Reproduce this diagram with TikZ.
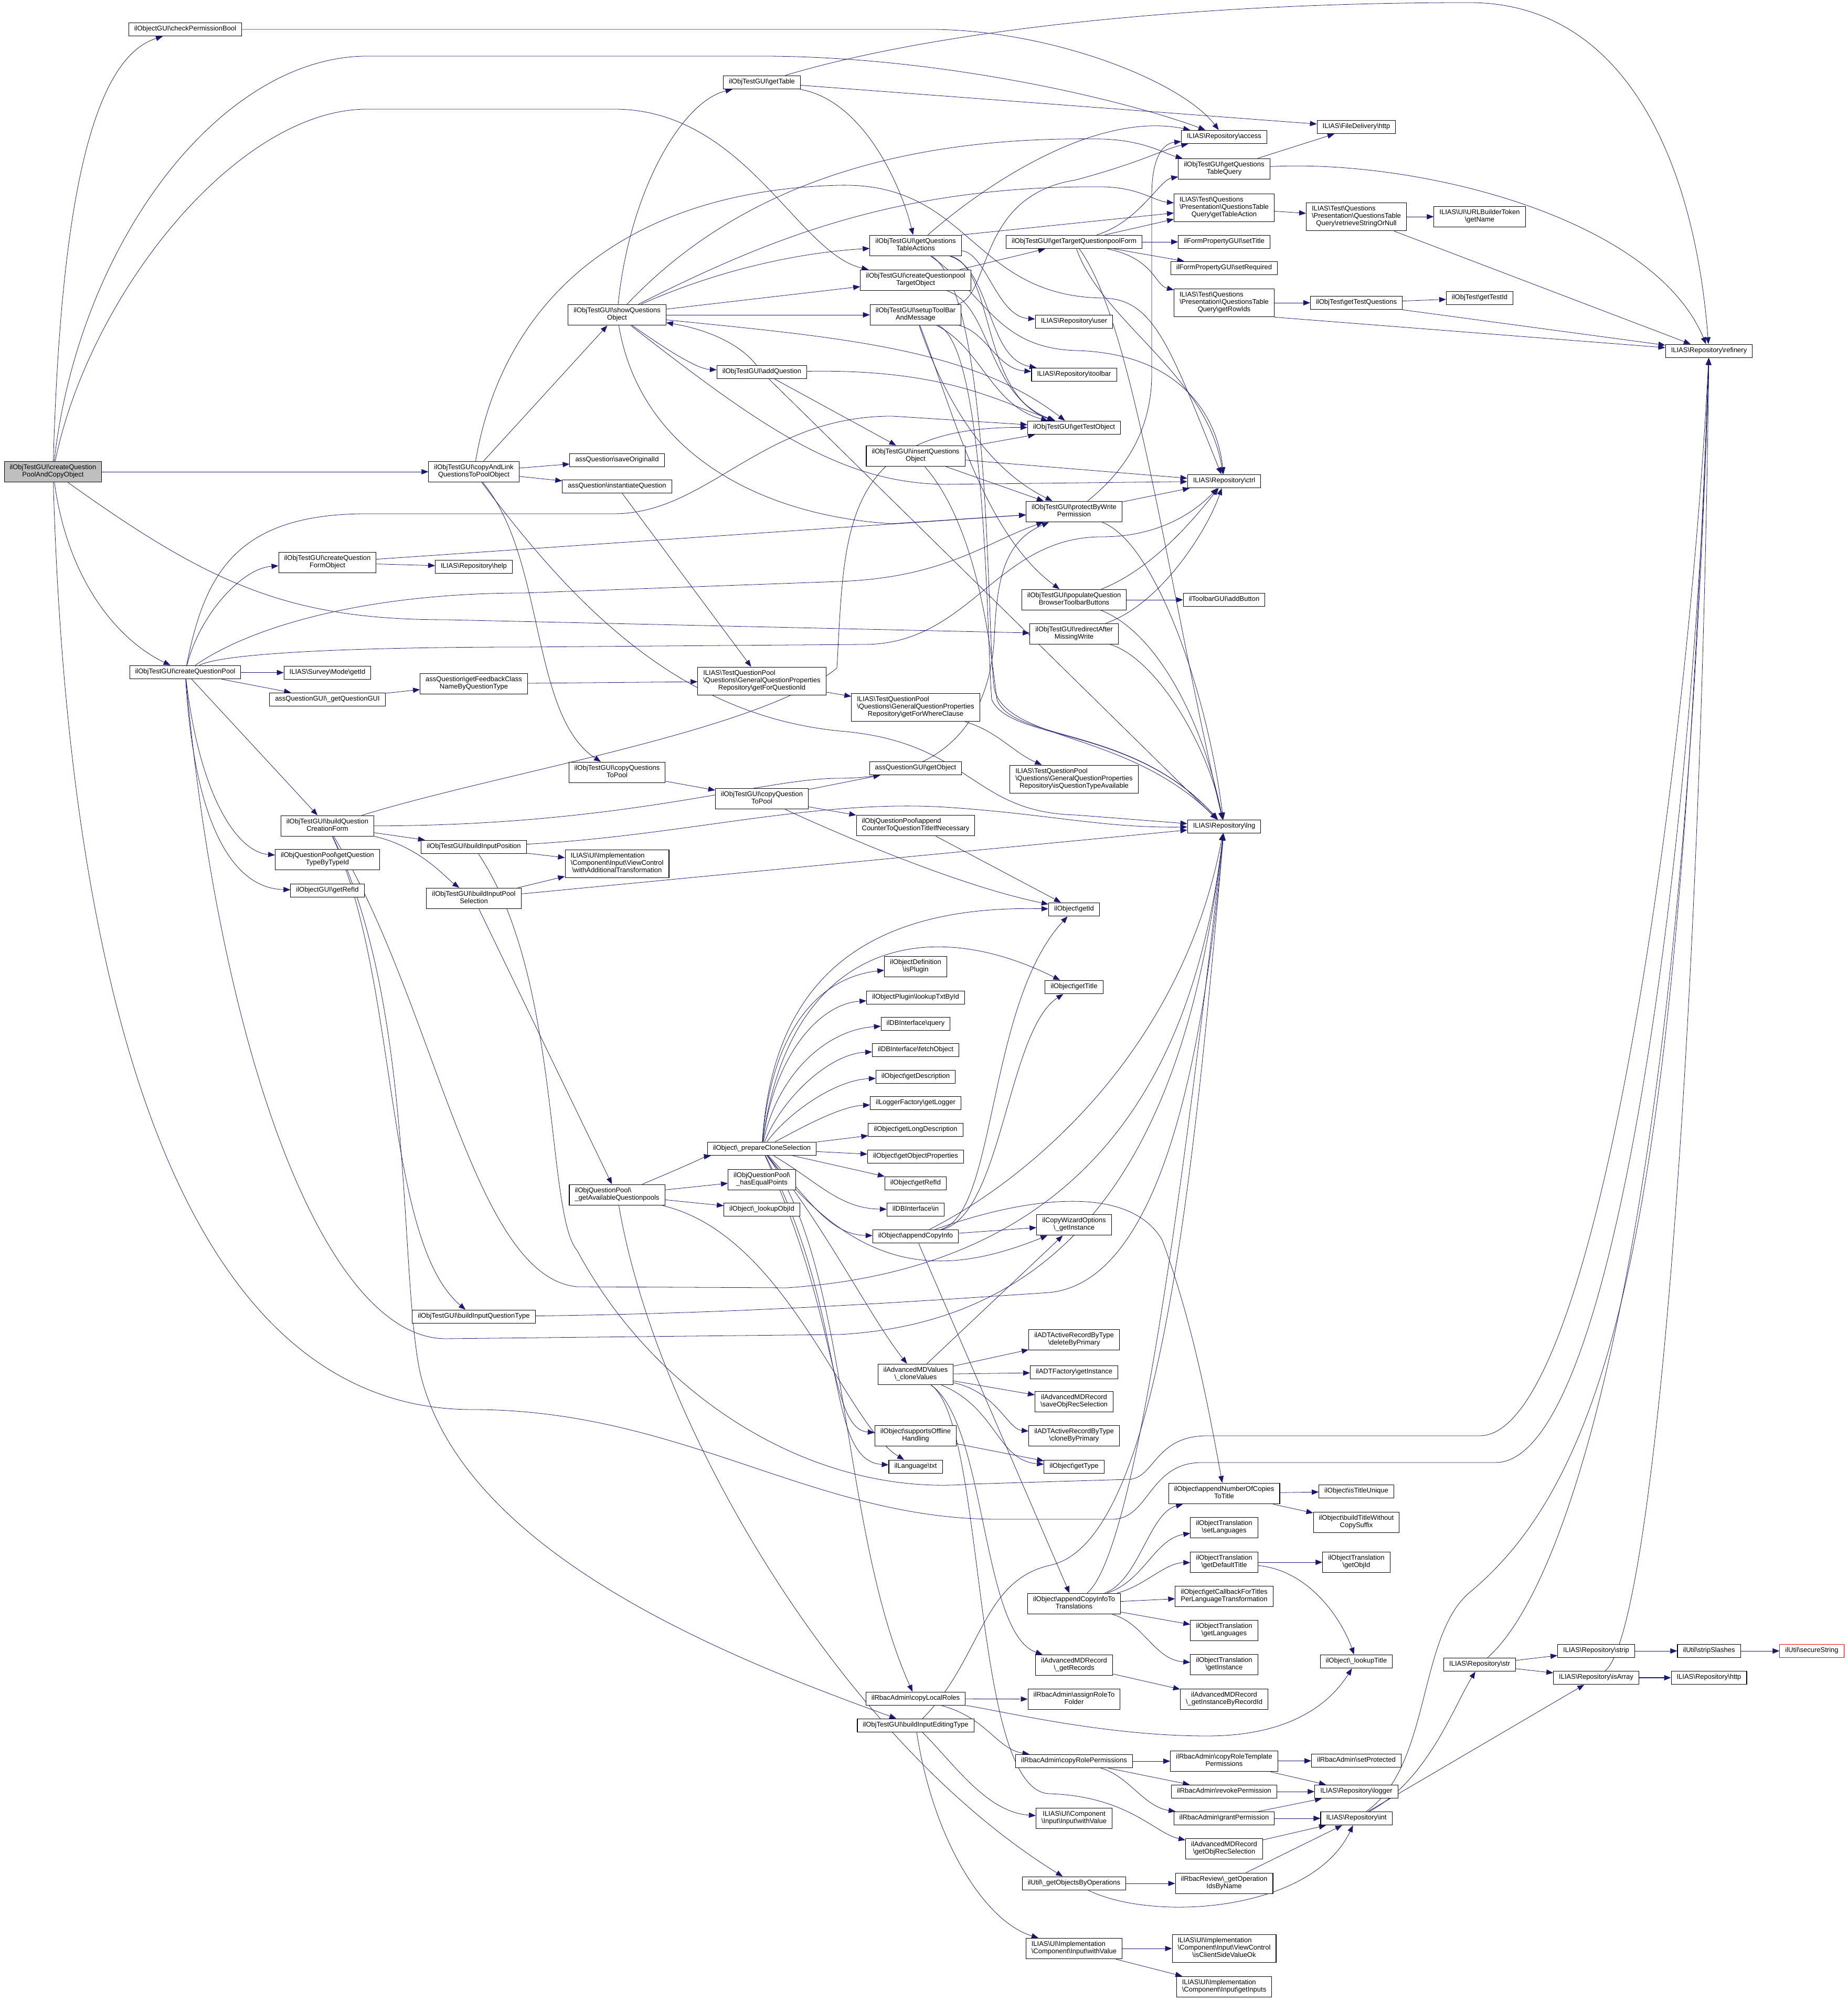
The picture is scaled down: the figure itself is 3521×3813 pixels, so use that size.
\documentclass[tikz,border=0pt]{standalone}
\usepackage{fontspec}
\setmainfont{Liberation Sans}
\usetikzlibrary{arrows.meta,backgrounds}

\definecolor{edgeblue}{HTML}{191970}
\newcommand{\bsl}{\textbackslash}
\newcommand{\boxc}[1]{\begin{tabular}{@{}c@{}}#1\end{tabular}}
\newcommand{\boxl}[2]{\begin{tabular}{@{}l@{}}#1\\\multicolumn{1}{@{}c@{}}{#2}\end{tabular}}

\begin{document}
\begin{tikzpicture}[x=0.2mm,y=0.2mm,font=\fontsize{7.4}{8}\selectfont,
	fn/.style={draw, line width=0.6pt, fill=white, inner xsep=6pt, inner ysep=3.3pt},
	conn/.style={draw=edgeblue, line width=0.45pt, -{Triangle[length=2.6mm,width=2mm]}}]

	\begin{scope}[on background layer]
		\fill[white] (0,0) rectangle (3521,3813);
	\end{scope}
	\useasboundingbox (0,0) rectangle (3521,3813);

	% column 0
	\node[fn, fill=black!25] (root) at (101,2914) {\boxc{ilObjTestGUI\bsl createQuestion\\PoolAndCopyObject}};

	% column 1
	\node[fn] (cpb) at (353,3757) {\boxc{ilObjectGUI\bsl checkPermissionBool}};
	\node[fn] (cqp) at (353,2532) {\boxc{ilObjTestGUI\bsl createQuestionPool}};

	% column 2
	\node[fn] (cqfo) at (624,2741) {\boxc{ilObjTestGUI\bsl createQuestion\\FormObject}};
	\node[fn] (svgetid) at (624,2531) {\boxc{ILIAS\bsl Survey\bsl Mode\bsl getId}};
	\node[fn] (getqgui) at (624,2480) {\boxc{assQuestionGUI\bsl\_getQuestionGUI}};
	\node[fn] (bqcf) at (624,2239) {\boxc{ilObjTestGUI\bsl buildQuestion\\CreationForm}};
	\node[fn] (qtbt) at (624,2175) {\boxc{ilObjQuestionPool\bsl getQuestion\\TypeByTypeId}};
	\node[fn] (guirefid) at (624,2116) {\boxc{ilObjectGUI\bsl getRefId}};

	% column 3
	\node[fn] (calq) at (903,2914) {\boxc{ilObjTestGUI\bsl copyAndLink\\QuestionsToPoolObject}};
	\node[fn] (help) at (903,2733) {\boxc{ILIAS\bsl Repository\bsl help}};
	\node[fn] (fbcn) at (903,2510) {\boxc{assQuestion\bsl getFeedbackClass\\NameByQuestionType}};
	\node[fn] (bip) at (903,2199) {\boxc{ilObjTestGUI\bsl buildInputPosition}};
	\node[fn] (bips) at (903,2101) {\boxc{ilObjTestGUI\bsl buildInputPool\\Selection}};
	\node[fn] (biqt) at (903,1304) {\boxc{ilObjTestGUI\bsl buildInputQuestionType}};

	% column 4
	\node[fn] (sqo) at (1176,3213) {\boxc{ilObjTestGUI\bsl showQuestions\\Object}};
	\node[fn] (saveoid) at (1176,2936) {\boxc{assQuestion\bsl saveOriginalId}};
	\node[fn] (instq) at (1176,2886) {\boxc{assQuestion\bsl instantiateQuestion}};
	\node[fn] (cqtp) at (1176,2341) {\boxc{ilObjTestGUI\bsl copyQuestions\\ToPool}};
	\node[fn] (wat) at (1176,2167) {\boxl{ILIAS\bsl UI\bsl Implementation\\\bsl Component\bsl Input\bsl ViewControl}{\bsl withAdditionalTransformation}};
	\node[fn] (gaqp) at (1176,1536) {\boxl{ilObjQuestionPool\bsl}{\_getAvailableQuestionpools}};

	% column 5
	\node[fn] (gettable) at (1452,3656) {\boxc{ilObjTestGUI\bsl getTable}};
	\node[fn] (addq) at (1452,3104) {\boxc{ilObjTestGUI\bsl addQuestion}};
	\node[fn] (gfqid) at (1452,2515) {\boxl{ILIAS\bsl TestQuestionPool\\\bsl Questions\bsl GeneralQuestionProperties}{Repository\bsl getForQuestionId}};
	\node[fn] (cq2p) at (1452,2291) {\boxc{ilObjTestGUI\bsl copyQuestion\\ToPool}};
	\node[fn] (pcs) at (1452,1624) {\boxc{ilObject\bsl\_prepareCloneSelection}};
	\node[fn] (hep) at (1452,1565) {\boxc{ilObjQuestionPool\bsl\\\_hasEqualPoints}};
	\node[fn] (lobjid) at (1452,1508) {\boxc{ilObject\bsl\_lookupObjId}};

	% column 6
	\node[fn] (gqta) at (1745,3345) {\boxc{ilObjTestGUI\bsl getQuestions\\TableActions}};
	\node[fn] (cqpto) at (1745,3279) {\boxc{ilObjTestGUI\bsl createQuestionpool\\TargetObject}};
	\node[fn] (stbm) at (1745,3213) {\boxc{ilObjTestGUI\bsl setupToolBar\\AndMessage}};
	\node[fn] (iqo) at (1745,2944) {\boxc{ilObjTestGUI\bsl insertQuestions\\Object}};
	\node[fn] (gfwc) at (1745,2465) {\boxl{ILIAS\bsl TestQuestionPool\\\bsl Questions\bsl GeneralQuestionProperties}{Repository\bsl getForWhereClause}};
	\node[fn] (aqgobj) at (1745,2349) {\boxc{assQuestionGUI\bsl getObject}};
	\node[fn] (acqt) at (1745,2240) {\boxl{ilObjQuestionPool\bsl append}{CounterToQuestionTitleIfNecessary}};
	\node[fn] (isplugin) at (1745,1971) {\boxc{ilObjectDefinition\\\bsl isPlugin}};
	\node[fn] (ltxt) at (1745,1912) {\boxc{ilObjectPlugin\bsl lookupTxtById}};
	\node[fn] (query) at (1745,1862) {\boxc{ilDBInterface\bsl query}};
	\node[fn] (fetch) at (1745,1812) {\boxc{ilDBInterface\bsl fetchObject}};
	\node[fn] (getdesc) at (1745,1761) {\boxc{ilObject\bsl getDescription}};
	\node[fn] (getlogger) at (1745,1711) {\boxc{ilLoggerFactory\bsl getLogger}};
	\node[fn] (getlongdesc) at (1745,1660) {\boxc{ilObject\bsl getLongDescription}};
	\node[fn] (getobjprops) at (1745,1609) {\boxc{ilObject\bsl getObjectProperties}};
	\node[fn] (objrefid) at (1745,1558) {\boxc{ilObject\bsl getRefId}};
	\node[fn] (dbin) at (1745,1508) {\boxc{ilDBInterface\bsl in}};
	\node[fn] (aci) at (1745,1457) {\boxc{ilObject\bsl appendCopyInfo}};
	\node[fn] (clonev) at (1745,1194) {\boxc{ilAdvancedMDValues\\\bsl\_cloneValues}};
	\node[fn] (sofh) at (1745,1077) {\boxc{ilObject\bsl supportsOffline\\Handling}};
	\node[fn] (langtxt) at (1745,1018) {\boxc{ilLanguage\bsl txt}};
	\node[fn] (clr) at (1745,576) {\boxc{ilRbacAdmin\bsl copyLocalRoles}};
	\node[fn] (biet) at (1745,525) {\boxc{ilObjTestGUI\bsl buildInputEditingType}};

	% column 7
	\node[fn] (gtqf) at (2047,3352) {\boxc{ilObjTestGUI\bsl getTargetQuestionpoolForm}};
	\node[fn] (user) at (2047,3200) {\boxc{ILIAS\bsl Repository\bsl user}};
	\node[fn] (toolbar) at (2047,3099) {\boxc{ILIAS\bsl Repository\bsl toolbar}};
	\node[fn] (gto) at (2047,2998) {\boxc{ilObjTestGUI\bsl getTestObject}};
	\node[fn] (pbwp) at (2047,2838) {\boxc{ilObjTestGUI\bsl protectByWrite\\Permission}};
	\node[fn] (pqbtb) at (2047,2670) {\boxc{ilObjTestGUI\bsl populateQuestion\\BrowserToolbarButtons}};
	\node[fn] (ramw) at (2047,2605) {\boxc{ilObjTestGUI\bsl redirectAfter\\MissingWrite}};
	\node[fn] (iqta) at (2047,2328) {\boxl{ILIAS\bsl TestQuestionPool\\\bsl Questions\bsl GeneralQuestionProperties}{Repository\bsl isQuestionTypeAvailable}};
	\node[fn] (objgetid) at (2047,2080) {\boxc{ilObject\bsl getId}};
	\node[fn] (objgettitle) at (2047,1932) {\boxc{ilObject\bsl getTitle}};
	\node[fn] (cwo) at (2047,1479) {\boxc{ilCopyWizardOptions\\\bsl\_getInstance}};
	\node[fn] (dbp) at (2047,1260) {\boxc{ilADTActiveRecordByType\\\bsl deleteByPrimary}};
	\node[fn] (adtf) at (2047,1198) {\boxc{ilADTFactory\bsl getInstance}};
	\node[fn] (sors) at (2047,1142) {\boxc{ilAdvancedMDRecord\\\bsl saveObjRecSelection}};
	\node[fn] (cbp) at (2047,1077) {\boxc{ilADTActiveRecordByType\\\bsl cloneByPrimary}};
	\node[fn] (gettype) at (2047,1018) {\boxc{ilObject\bsl getType}};
	\node[fn] (acitt) at (2047,757) {\boxc{ilObject\bsl appendCopyInfoTo\\Translations}};
	\node[fn] (getrec) at (2047,640) {\boxc{ilAdvancedMDRecord\\\bsl\_getRecords}};
	\node[fn] (artf) at (2047,575) {\boxc{ilRbacAdmin\bsl assignRoleTo\\Folder}};
	\node[fn] (crp) at (2047,457) {\boxc{ilRbacAdmin\bsl copyRolePermissions}};
	\node[fn] (inwv) at (2047,348) {\boxc{ILIAS\bsl UI\bsl Component\\\bsl Input\bsl Input\bsl withValue}};
	\node[fn] (gobo) at (2047,224) {\boxc{ilUtil\bsl\_getObjectsByOperations}};
	\node[fn] (iwv) at (2047,100) {\boxl{ILIAS\bsl UI\bsl Implementation}{\bsl Component\bsl Input\bsl withValue}};

	% column 8
	\node[fn] (access) at (2333,3552) {\boxc{ILIAS\bsl Repository\bsl access}};
	\node[fn] (gqtq) at (2333,3491) {\boxc{ilObjTestGUI\bsl getQuestions\\TableQuery}};
	\node[fn] (gtact) at (2333,3417) {\boxl{ILIAS\bsl Test\bsl Questions\\\bsl Presentation\bsl QuestionsTable}{Query\bsl getTableAction}};
	\node[fn] (settitle) at (2333,3352) {\boxc{ilFormPropertyGUI\bsl setTitle}};
	\node[fn] (setreq) at (2333,3302) {\boxc{ilFormPropertyGUI\bsl setRequired}};
	\node[fn] (rowids) at (2333,3236) {\boxl{ILIAS\bsl Test\bsl Questions\\\bsl Presentation\bsl QuestionsTable}{Query\bsl getRowIds}};
	\node[fn] (ctrl) at (2333,2896) {\boxc{ILIAS\bsl Repository\bsl ctrl}};
	\node[fn] (addbtn) at (2333,2670) {\boxc{ilToolbarGUI\bsl addButton}};
	\node[fn] (lng) at (2333,2238) {\boxc{ILIAS\bsl Repository\bsl lng}};
	\node[fn] (ancopies) at (2333,967) {\boxc{ilObject\bsl appendNumberOfCopies\\ToTitle}};
	\node[fn] (setlang) at (2333,902) {\boxc{ilObjectTranslation\\\bsl setLanguages}};
	\node[fn] (gdt) at (2333,836) {\boxc{ilObjectTranslation\\\bsl getDefaultTitle}};
	\node[fn] (gcb) at (2333,771) {\boxc{ilObject\bsl getCallbackForTitles\\PerLanguageTransformation}};
	\node[fn] (getlang) at (2333,706) {\boxc{ilObjectTranslation\\\bsl getLanguages}};
	\node[fn] (otinst) at (2333,641) {\boxc{ilObjectTranslation\\\bsl getInstance}};
	\node[fn] (gibr) at (2333,575) {\boxc{ilAdvancedMDRecord\\\bsl\_getInstanceByRecordId}};
	\node[fn] (crtp) at (2333,457) {\boxc{ilRbacAdmin\bsl copyRoleTemplate\\Permissions}};
	\node[fn] (revoke) at (2333,399) {\boxc{ilRbacAdmin\bsl revokePermission}};
	\node[fn] (grant) at (2333,348) {\boxc{ilRbacAdmin\bsl grantPermission}};
	\node[fn] (gors) at (2333,290) {\boxc{ilAdvancedMDRecord\\\bsl getObjRecSelection}};
	\node[fn] (goibn) at (2333,224) {\boxc{ilRbacReview\bsl\_getOperation\\IdsByName}};
	\node[fn] (icsv) at (2333,100) {\boxl{ILIAS\bsl UI\bsl Implementation\\\bsl Component\bsl Input\bsl ViewControl}{\bsl isClientSideValueOk}};
	\node[fn] (getinputs) at (2333,27) {\boxl{ILIAS\bsl UI\bsl Implementation}{\bsl Component\bsl Input\bsl getInputs}};

	% column 9
	\node[fn] (fdhttp) at (2585,3571) {\boxc{ILIAS\bsl FileDelivery\bsl http}};
	\node[fn] (rson) at (2585,3400) {\boxl{ILIAS\bsl Test\bsl Questions\\\bsl Presentation\bsl QuestionsTable}{Query\bsl retrieveStringOrNull}};
	\node[fn] (gtq) at (2585,3236) {\boxc{ilObjTest\bsl getTestQuestions}};
	\node[fn] (istu) at (2585,971) {\boxc{ilObject\bsl isTitleUnique}};
	\node[fn] (btwc) at (2585,912) {\boxc{ilObject\bsl buildTitleWithout\\CopySuffix}};
	\node[fn] (otobjid) at (2585,836) {\boxc{ilObjectTranslation\\\bsl getObjId}};
	\node[fn] (lookuptitle) at (2585,647) {\boxc{ilObject\bsl\_lookupTitle}};
	\node[fn] (setprot) at (2585,458) {\boxc{ilRbacAdmin\bsl setProtected}};
	\node[fn] (logger) at (2585,399) {\boxc{ILIAS\bsl Repository\bsl logger}};
	\node[fn] (int) at (2585,348) {\boxc{ILIAS\bsl Repository\bsl int}};

	% columns 10 to 13
	\node[fn] (urlname) at (2820,3400) {\boxc{ILIAS\bsl UI\bsl URLBuilderToken\\\bsl getName}};
	\node[fn] (gettestid) at (2820,3245) {\boxc{ilObjTest\bsl getTestId}};
	\node[fn] (str) at (2820,641) {\boxc{ILIAS\bsl Repository\bsl str}};
	\node[fn] (strip) at (3042,667) {\boxc{ILIAS\bsl Repository\bsl strip}};
	\node[fn] (isarray) at (3042,616) {\boxc{ILIAS\bsl Repository\bsl isArray}};
	\node[fn] (refinery) at (3257,3144) {\boxc{ILIAS\bsl Repository\bsl refinery}};
	\node[fn] (stripsl) at (3257,667) {\boxc{ilUtil\bsl stripSlashes}};
	\node[fn] (rhttp) at (3257,616) {\boxc{ILIAS\bsl Repository\bsl http}};
	\node[fn, draw=red] (secure) at (3453,667) {\boxc{ilUtil\bsl secureString}};

	\begin{scope}[on background layer]
	% calls of the root
	\draw[conn] (root) .. controls (115,3400) and (170,3700) .. (cpb);
	\draw[conn] (root) .. controls (150,3350) and (420,3706) .. (700,3706) -- (1450,3706) .. controls (1800,3706) and (2150,3620) .. (access);
	\draw[conn] (root) .. controls (170,3250) and (450,3605) .. (700,3605) -- (1170,3605) .. controls (1420,3605) and (1520,3330) .. (cqpto);
	\draw[conn] (root) -- (calq);
	\draw[conn] (root) .. controls (130,2700) and (230,2590) .. (cqp);
	\draw[conn] (root) .. controls (400,2700) and (550,2632) .. (850,2632) -- (ramw);
	\draw[conn] (root) .. controls (130,1900) and (350,1127) .. (900,1127) .. controls (1300,1127) and (1550,918) .. (1900,918) -- (2120,918) .. controls (2190,918) and (2190,1026) .. (2290,1026) -- (2850,1026) .. controls (3100,1026) and (3240,2400) .. (refinery);
	\draw[conn] (cpb) -- (1770,3757) .. controls (2000,3757) and (2250,3660) .. (access);

	% copyAndLinkQuestionsToPoolObject
	\draw[conn] (calq) -- (sqo);
	\draw[conn] (calq) -- (saveoid);
	\draw[conn] (calq) -- (instq);
	\draw[conn] (calq) .. controls (1040,2750) and (1010,2450) .. (cqtp);
	\draw[conn] (calq) .. controls (960,3250) and (1200,3450) .. (1600,3460) .. controls (1850,3465) and (1850,3250) .. (2100,3245) .. controls (2200,3245) and (2230,3150) .. (ctrl);
	\draw[conn] (calq) .. controls (1100,2650) and (1300,2450) .. (1600,2420) .. controls (1850,2400) and (1850,2265) .. (2050,2260) -- (lng);

	% createQuestionPool
	\draw[conn] (cqp) .. controls (380,2640) and (460,2730) .. (cqfo);
	\draw[conn] (cqp) -- (svgetid);
	\draw[conn] (cqp) -- (getqgui);
	\draw[conn] (cqp) -- (bqcf);
	\draw[conn] (cqp) .. controls (380,2300) and (450,2190) .. (qtbt);
	\draw[conn] (cqp) .. controls (370,2250) and (440,2120) .. (guirefid);
	\draw[conn] (cqp) .. controls (390,2720) and (450,2834) .. (700,2834) -- (1170,2834) .. controls (1350,2834) and (1450,3020) .. (1700,3020) -- (gto);
	\draw[conn] (cqp) .. controls (480,2620) and (700,2683) .. (1000,2683) -- (1600,2705) .. controls (1800,2712) and (1880,2780) .. (pbwp);
	\draw[conn] (cqp) .. controls (430,2570) and (700,2580) .. (1000,2580) -- (1650,2585) .. controls (1850,2587) and (1900,2790) .. (2100,2790) .. controls (2200,2790) and (2270,2830) .. (ctrl);
	\draw[conn] (cqp) .. controls (420,1800) and (620,1262) .. (850,1262) -- (1600,1270) .. controls (2150,1300) and (2280,1800) .. (lng);
	\draw[conn] (cqfo) -- (pbwp);
	\draw[conn] (cqfo) -- (help);
	\draw[conn] (getqgui) -- (fbcn);
	\draw[conn] (fbcn) -- (gfqid);
	\draw[conn] (instq) -- (gfqid);

	% buildQuestionCreationForm
	\draw[conn] (bqcf) -- (bip);
	\draw[conn] (bqcf) .. controls (800,2200) and (850,2140) .. (bips);
	\draw[conn] (bqcf) .. controls (950,2340) and (1450,2420) .. (1595,2540) .. controls (1610,2800) and (1600,3000) .. (gto);
	\draw[conn] (bqcf) .. controls (1200,2240) and (1450,2330) .. (1600,2330) .. controls (1850,2330) and (1890,2500) .. (1895,2600) .. controls (1900,2700) and (1910,2780) .. (pbwp);
	\draw[conn] (bqcf) .. controls (830,1900) and (900,1380) .. (1100,1361) -- (1500,1359) .. controls (2100,1400) and (2280,1800) .. (lng);
	\draw[conn] (bqcf) .. controls (760,1950) and (730,1450) .. (biqt);
	\draw[conn] (bqcf) .. controls (790,1900) and (760,1400) .. (800,1200) .. controls (880,850) and (1400,650) .. (biet);
	\draw[conn] (bip) -- (wat);
	\draw[conn] (bip) .. controls (1300,2220) and (1550,2290) .. (1800,2275) .. controls (2000,2262) and (2100,2235) .. (lng);
	\draw[conn] (bip) .. controls (1070,1950) and (1040,1500) .. (1100,1430) .. controls (1250,1150) and (1550,960) .. (1850,985) -- (2150,994) .. controls (2200,994) and (2200,1077) .. (2300,1077) -- (2820,1077) .. controls (3050,1077) and (3220,2400) .. (refinery);
	\draw[conn] (bips) -- (wat);
	\draw[conn] (bips) -- (lng);
	\draw[conn] (bips) -- (gaqp);
	\draw[conn] (biqt) .. controls (1400,1310) and (1700,1330) .. (2000,1350) .. controls (2200,1370) and (2290,1750) .. (lng);

	% getAvailableQuestionpools and copyQuestionsToPool
	\draw[conn] (gaqp) .. controls (1280,1580) and (1350,1610) .. (pcs);
	\draw[conn] (gaqp) -- (hep);
	\draw[conn] (gaqp) -- (lobjid);
	\draw[conn] (gaqp) .. controls (1250,1100) and (1600,500) .. (gobo);
	\draw[conn] (gaqp) .. controls (1500,1460) and (1610,1100) .. (langtxt);
	\draw[conn] (cqtp) -- (cq2p);
	\draw[conn] (cq2p) -- (aqgobj);
	\draw[conn] (cq2p) -- (acqt);
	\draw[conn] (cq2p) .. controls (1650,2200) and (1850,2120) .. (objgetid);
	\draw[conn] (acqt) -- (objgetid);

	% showQuestionsObject
	\draw[conn] (sqo) .. controls (1200,3450) and (1300,3620) .. (gettable);
	\draw[conn] (sqo) .. controls (1350,3290) and (1500,3330) .. (gqta);
	\draw[conn] (sqo) -- (cqpto);
	\draw[conn] (sqo) -- (stbm);
	\draw[conn] (sqo) .. controls (1280,3140) and (1330,3110) .. (addq);
	\draw[conn] (sqo) .. controls (1600,3170) and (1850,3150) .. (gto);
	\draw[conn] (sqo) .. controls (1220,2950) and (1450,2830) .. (1700,2815) -- (pbwp);
	\draw[conn] (sqo) .. controls (1450,3000) and (1600,2893) .. (1800,2890) -- (ctrl);
	\draw[conn] (sqo) .. controls (1400,3450) and (1700,3555) .. (2100,3548) .. controls (2180,3546) and (2220,3520) .. (gqtq);
	\draw[conn] (sqo) .. controls (1450,3350) and (1700,3460) .. (2100,3457) .. controls (2170,3456) and (2200,3430) .. (gtact);
	\draw[conn] (gettable) .. controls (1800,3760) and (2300,3808) .. (2800,3808) .. controls (3100,3808) and (3230,3500) .. (refinery);
	\draw[conn] (gettable) -- (fdhttp);
	\draw[conn] (gettable) .. controls (1650,3620) and (1720,3450) .. (gqta);
	\draw[conn] (addq) .. controls (1400,3170) and (1320,3190) .. (sqo);
	\draw[conn] (addq) .. controls (1800,3110) and (1900,3050) .. (gto);
	\draw[conn] (addq) -- (iqo);
	\draw[conn] (addq) -- (lng);

	% column 6 callers
	\draw[conn] (gqta) .. controls (1900,3480) and (2100,3600) .. (access);
	\draw[conn] (gqta.north east) -- (gtact);
	\draw[conn] (gqta) .. controls (1880,3330) and (1900,3210) .. (user);
	\draw[conn] (gqta) .. controls (1890,3300) and (1880,3130) .. (toolbar);
	\draw[conn] (gqta) .. controls (1895,3300) and (1870,3060) .. (gto);
	\draw[conn] (gqta) .. controls (1880,3250) and (1900,3150) .. (2050,3145) .. controls (2250,3140) and (2320,3020) .. (ctrl);
	\draw[conn] (gqta) .. controls (1890,3250) and (1880,2600) .. (1895,2500) .. controls (1920,2400) and (2150,2420) .. (lng);
	\draw[conn] (cqpto) -- (gtqf);
	\draw[conn] (cqpto) .. controls (1890,3230) and (1880,3060) .. (gto);
	\draw[conn] (stbm) .. controls (1890,3250) and (1860,3440) .. (2050,3470) .. controls (2180,3505) and (2220,3530) .. (access);
	\draw[conn] (stbm) .. controls (1880,3180) and (1900,3110) .. (toolbar);
	\draw[conn] (stbm) .. controls (1870,3150) and (1890,3040) .. (gto);
	\draw[conn] (stbm) .. controls (1800,3050) and (1880,2920) .. (pbwp);
	\draw[conn] (stbm) .. controls (1810,3050) and (1870,2800) .. (pqbtb);
	\draw[conn] (stbm) .. controls (1880,3150) and (1880,2600) .. (1890,2480) .. controls (1925,2400) and (2160,2430) .. (lng);
	\draw[conn] (iqo) -- (gto);
	\draw[conn] (iqo) -- (ctrl);
	\draw[conn] (iqo) -- (pbwp);
	\draw[conn] (iqo) .. controls (1870,2800) and (1890,2550) .. (1900,2480) .. controls (1930,2400) and (2160,2430) .. (lng);
	\draw[conn] (gfqid) -- (gfwc);
	\draw[conn] (gfwc) .. controls (1900,2420) and (1930,2380) .. (iqta);

	% column 7 callers
	\draw[conn] (gtqf) -- (gtact);
	\draw[conn] (gtqf) -- (settitle);
	\draw[conn] (gtqf) -- (setreq);
	\draw[conn] (gtqf) .. controls (2200,3320) and (2200,3270) .. (rowids);
	\draw[conn] (gtqf) .. controls (2170,3390) and (2210,3470) .. (gqtq);
	\draw[conn] (gtqf) .. controls (2100,3200) and (2300,3100) .. (ctrl);
	\draw[conn] (gtqf) .. controls (2160,3200) and (2225,2700) .. (lng);
	\draw[conn] (pbwp) .. controls (2150,2920) and (2195,3000) .. (2195,3100) -- (2195,3440) .. controls (2195,3520) and (2220,3540) .. (access);
	\draw[conn] (pbwp) -- (ctrl);
	\draw[conn] (pbwp) .. controls (2200,2780) and (2300,2500) .. (lng);
	\draw[conn] (pqbtb) -- (addbtn);
	\draw[conn] (pqbtb) .. controls (2200,2730) and (2280,2830) .. (ctrl);
	\draw[conn] (pqbtb) .. controls (2200,2610) and (2290,2450) .. (lng);
	\draw[conn] (ramw) .. controls (2210,2660) and (2300,2800) .. (ctrl);
	\draw[conn] (ramw) .. controls (2200,2560) and (2300,2400) .. (lng);

	% table query helpers
	\draw[conn] (gqtq) -- (fdhttp);
	\draw[conn] (gqtq) .. controls (2700,3510) and (3150,3400) .. (refinery);
	\draw[conn] (gtact) -- (rson);
	\draw[conn] (rson) -- (urlname);
	\draw[conn] (rson) -- (refinery);
	\draw[conn] (rowids) -- (gtq);
	\draw[conn] (rowids.south east) -- (refinery);
	\draw[conn] (gtq) -- (gettestid);
	\draw[conn] (gtq.south east) -- (refinery);

	% prepareCloneSelection
	\draw[conn] (pcs) .. controls (1470,1850) and (1560,1950) .. (isplugin);
	\draw[conn] (pcs) .. controls (1475,1800) and (1560,1900) .. (ltxt);
	\draw[conn] (pcs) .. controls (1480,1760) and (1570,1850) .. (query);
	\draw[conn] (pcs) .. controls (1490,1720) and (1580,1805) .. (fetch);
	\draw[conn] (pcs) .. controls (1500,1690) and (1590,1755) .. (getdesc);
	\draw[conn] (pcs) .. controls (1520,1660) and (1600,1705) .. (getlogger);
	\draw[conn] (pcs) -- (getlongdesc);
	\draw[conn] (pcs) -- (getobjprops);
	\draw[conn] (pcs) -- (objrefid);
	\draw[conn] (pcs) .. controls (1560,1560) and (1600,1510) .. (dbin);
	\draw[conn] (pcs) .. controls (1540,1530) and (1580,1460) .. (aci);
	\draw[conn] (pcs) .. controls (1470,1900) and (1600,2090) .. (objgetid);
	\draw[conn] (pcs) .. controls (1500,2000) and (1750,2080) .. (objgettitle);
	\draw[conn] (pcs) .. controls (1640,1380) and (1800,1380) .. (cwo);
	\draw[conn] (pcs) .. controls (1570,1480) and (1660,1300) .. (clonev);
	\draw[conn] (pcs) .. controls (1600,1300) and (1580,1090) .. (sofh);
	\draw[conn] (pcs) .. controls (1620,1300) and (1570,1030) .. (langtxt);
	\draw[conn] (pcs) .. controls (1620,1400) and (1600,900) .. (clr);

	% appendCopyInfo and cloneValues
	\draw[conn] (aci) .. controls (1900,1500) and (1880,1900) .. (objgetid);
	\draw[conn] (aci) .. controls (1910,1500) and (1920,1850) .. (objgettitle);
	\draw[conn] (aci) -- (cwo);
	\draw[conn] (aci) .. controls (1950,1560) and (2250,1800) .. (lng);
	\draw[conn] (aci) .. controls (1950,1530) and (2150,1560) .. (2215,1450) .. controls (2270,1300) and (2300,1150) .. (ancopies);
	\draw[conn] (aci) -- (acitt);
	\draw[conn] (clonev) -- (dbp);
	\draw[conn] (clonev) -- (adtf);
	\draw[conn] (clonev) -- (sors);
	\draw[conn] (clonev) .. controls (1900,1160) and (1920,1090) .. (cbp);
	\draw[conn] (clonev) -- (cwo);
	\draw[conn] (clonev) .. controls (1900,1130) and (1900,1030) .. (gettype);
	\draw[conn] (clonev) .. controls (1880,1100) and (1870,700) .. (getrec);
	\draw[conn] (clonev) .. controls (1880,1100) and (1850,400) .. (2000,395) .. controls (2150,390) and (2200,320) .. (gors);
	\draw[conn] (sofh) -- (gettype);
	\draw[conn] (acitt) .. controls (2180,800) and (2200,880) .. (setlang);
	\draw[conn] (acitt) .. controls (2180,790) and (2220,835) .. (gdt);
	\draw[conn] (acitt) -- (gcb);
	\draw[conn] (acitt) -- (getlang);
	\draw[conn] (acitt) .. controls (2180,720) and (2200,650) .. (otinst);
	\draw[conn] (acitt) .. controls (2170,800) and (2190,930) .. (ancopies);
	\draw[conn] (acitt) .. controls (2160,850) and (2250,1500) .. (lng);
	\draw[conn] (gdt) -- (otobjid);
	\draw[conn] (gdt) .. controls (2500,820) and (2560,720) .. (lookuptitle);
	\draw[conn] (ancopies) -- (istu);
	\draw[conn] (ancopies) -- (btwc);
	\draw[conn] (getrec) -- (gibr);

	% roles and inputs
	\draw[conn] (clr) -- (artf);
	\draw[conn] (clr) .. controls (1880,540) and (1900,480) .. (crp);
	\draw[conn] (clr) .. controls (1900,555) and (2100,505) .. (2300,505) .. controls (2450,505) and (2530,560) .. (lookuptitle);
	\draw[conn] (biet) .. controls (1820,450) and (1880,360) .. (inwv);
	\draw[conn] (biet) .. controls (1780,300) and (1880,150) .. (iwv);
	\draw[conn] (biet) .. controls (1870,650) and (1870,800) .. (2000,830) .. controls (2200,870) and (2270,1500) .. (lng);
	\draw[conn] (crp) -- (crtp);
	\draw[conn] (crp) -- (revoke);
	\draw[conn] (crp) .. controls (2150,430) and (2180,370) .. (grant);
	\draw[conn] (crtp) -- (setprot);
	\draw[conn] (crtp) -- (logger);
	\draw[conn] (revoke) -- (logger);
	\draw[conn] (grant) -- (logger);
	\draw[conn] (grant) -- (int);
	\draw[conn] (gors) -- (int);
	\draw[conn] (gobo) -- (goibn);
	\draw[conn] (gobo) .. controls (2200,150) and (2500,170) .. (int);
	\draw[conn] (goibn) -- (int);
	\draw[conn] (iwv) -- (icsv);
	\draw[conn] (iwv) -- (getinputs);

	% repository helpers
	\draw[conn] (int) .. controls (2720,420) and (2770,560) .. (str);
	\draw[conn] (int) -- (isarray);
	\draw[conn] (int) .. controls (2730,450) and (2700,700) .. (2805,782) .. controls (3100,1030) and (3200,1600) .. (refinery);
	\draw[conn] (str) -- (strip);
	\draw[conn] (str) -- (isarray);
	\draw[conn] (str) .. controls (3000,800) and (3210,1500) .. (refinery);
	\draw[conn, line width=1pt] (isarray) -- (rhttp);
	\draw[conn] (isarray) .. controls (3150,700) and (3240,1800) .. (refinery);
	\draw[conn] (strip) -- (stripsl);
	\draw[conn] (stripsl) -- (secure);
	\end{scope}
\end{tikzpicture}
\end{document}
